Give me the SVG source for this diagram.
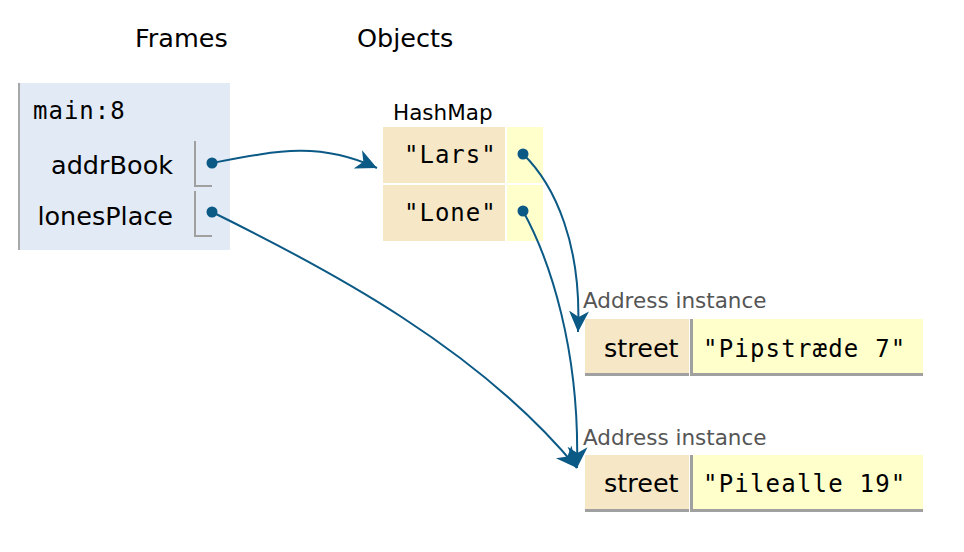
<svg xmlns="http://www.w3.org/2000/svg" width="964" height="552" viewBox="0 0 964 552">
<style>
.hdr{font-family:"DejaVu Sans",Verdana,sans-serif;font-size:25.5px;fill:#000}
.var{font-family:"DejaVu Sans",Verdana,sans-serif;font-size:25.5px;fill:#000;text-anchor:end}
.mono{font-family:"DejaVu Sans Mono","Liberation Mono",monospace;font-size:24px;fill:#000;letter-spacing:1px}
.wide{letter-spacing:1.2px}
.lbl{font-family:"DejaVu Sans",Verdana,sans-serif;font-size:21.5px}
.key{fill:#f6e8c6}
.val{fill:#ffffcc}
.dot{fill:#0b5985}
.edge{fill:none;stroke:#0b5985;stroke-width:2}
.brd{stroke:#a0a0a0;fill:none}
</style>
<defs>
<marker id="arr" markerUnits="userSpaceOnUse" markerWidth="24" markerHeight="24" viewBox="0 0 24 24" refX="21" refY="12" orient="auto">
<path d="M0,2 L21,12 L0,22 L6,12 z" fill="#0b5985"/>
</marker>
</defs>
<text class="hdr" x="135" y="47">Frames</text>
<text class="hdr" x="357" y="47">Objects</text>

<g id="frame-main">
<rect x="18" y="83" width="212" height="167" fill="#e2eaf5"/>
<line x1="19" y1="83" x2="19" y2="250" stroke="#a8a8a8" stroke-width="2"/>
<text class="mono" x="33" y="119">main:8</text>
<text class="var" x="173" y="174">addrBook</text>
<path class="brd" d="M195,141 V186 H212" stroke-width="2"/>
<circle class="dot" cx="212" cy="163" r="5.5"/>
<text class="var" x="173" y="225">lonesPlace</text>
<path class="brd" d="M195,191 V236 H212" stroke-width="2"/>
<circle class="dot" cx="212" cy="212" r="5.5"/>
</g>

<g id="hashmap">
<text class="lbl" x="393" y="120" fill="#000">HashMap</text>
<rect class="key" x="383" y="127" width="122" height="56"/>
<rect class="val" x="507" y="127" width="36" height="56"/>
<rect class="key" x="383" y="185" width="122" height="56"/>
<rect class="val" x="507" y="185" width="36" height="56"/>
<text class="mono" x="404" y="163">"Lars"</text>
<text class="mono" x="404" y="221">"Lone"</text>
<circle class="dot" cx="523" cy="154" r="5.5"/>
<circle class="dot" cx="523" cy="211" r="5.5"/>
</g>

<g id="address1">
<text class="lbl" x="583" y="308" fill="#555">Address instance</text>
<rect class="key" x="585" y="319" width="104" height="57"/>
<rect class="val" x="693" y="319" width="230" height="57"/>
<line x1="691.5" y1="319" x2="691.5" y2="376" stroke="#a0a0a0" stroke-width="3"/>
<line x1="585" y1="374.5" x2="689" y2="374.5" stroke="#a0a0a0" stroke-width="3"/>
<line x1="693" y1="374.5" x2="923" y2="374.5" stroke="#a0a0a0" stroke-width="3"/>
<text class="hdr" x="604" y="357">street</text>
<text class="mono wide" x="703" y="357">"Pipstræde 7"</text>
</g>

<g id="address2">
<text class="lbl" x="583" y="445" fill="#555">Address instance</text>
<rect class="key" x="585" y="455" width="104" height="57"/>
<rect class="val" x="693" y="455" width="230" height="57"/>
<line x1="691.5" y1="455" x2="691.5" y2="512" stroke="#a0a0a0" stroke-width="3"/>
<line x1="585" y1="510.5" x2="689" y2="510.5" stroke="#a0a0a0" stroke-width="3"/>
<line x1="693" y1="510.5" x2="923" y2="510.5" stroke="#a0a0a0" stroke-width="3"/>
<text class="hdr" x="604" y="492">street</text>
<text class="mono wide" x="703" y="492">"Pilealle 19"</text>
</g>

<g id="connectors">
<path class="edge" d="M212,163 C280,150 320,142 377,168" marker-end="url(#arr)"/>
<path class="edge" d="M523,154 C555,185 582,245 578,332" marker-end="url(#arr)"/>
<path class="edge" d="M523,211 C550,260 580,350 577,468" marker-end="url(#arr)"/>
<path class="edge" d="M212,212 C330,270 480,350 577,468" marker-end="url(#arr)"/>
</g>
</svg>
